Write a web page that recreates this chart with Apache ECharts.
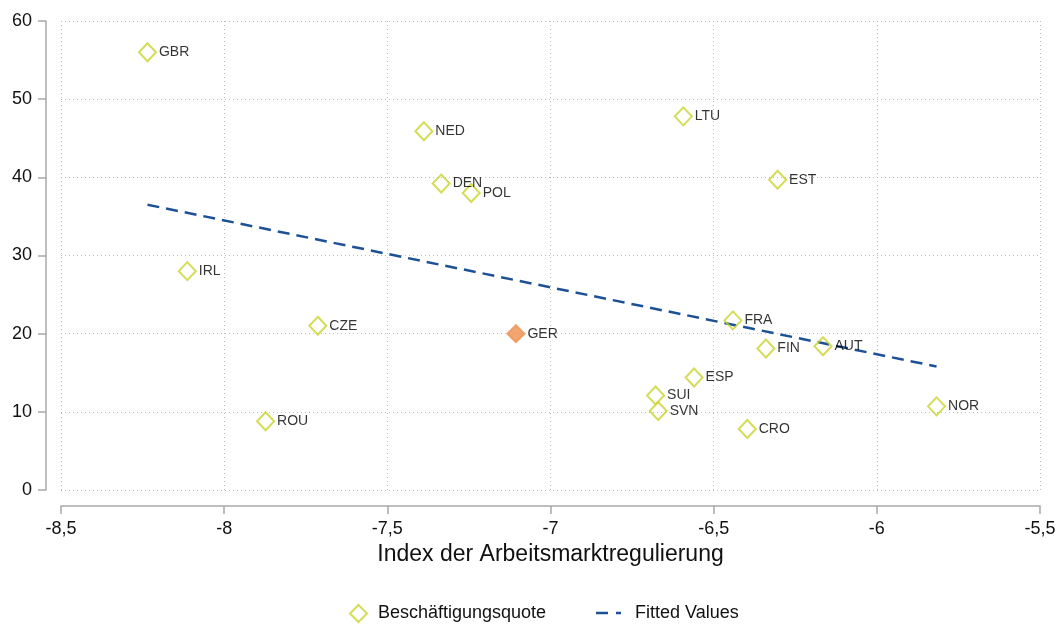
<!DOCTYPE html>
<html>
<head>
<meta charset="utf-8">
<script src="https://cdn.jsdelivr.net/npm/echarts@6/dist/echarts.min.js"></script>
<style>
  html, body { margin: 0; padding: 0; background: #fff; }
  #main { width: 1062px; height: 624px; }
</style>
</head>
<body>
<div id="main"></div>
<script>
// country codes, labour market regulation index, employment quota
var countries = ["GBR", "NED", "DEN", "POL", "LTU", "EST", "IRL", "CZE", "ROU", "GER",
                 "FRA", "FIN", "AUT", "ESP", "SUI", "SVN", "CRO", "NOR"];
var regIndex = [-8.235, -7.388, -7.335, -7.243, -6.593, -6.304, -8.113, -7.713, -7.873, -7.106,
                -6.441, -6.340, -6.165, -6.560, -6.678, -6.670, -6.397, -5.817];
var quota = [56.0, 45.9, 39.2, 38.0, 47.8, 39.7, 28.0, 21.0, 8.8, 20.0,
             21.7, 18.1, 18.4, 14.4, 12.1, 10.1, 7.8, 10.7];
var highlight = "GER";

// fitted line end points
var fitX = [-8.235, -5.817];
var fitY = [36.5, 15.8];

var xTicks = { min: -8.5, max: -5.5, step: 0.5 };
var yTicks = { min: 0, max: 60, step: 10 };

var font = "'Liberation Sans', Arial, sans-serif";
var diamondColor = "#c9d32c";
var lineColor = "#1d5195";

var points = countries.map(function (c, i) {
  var item = { name: c, value: [regIndex[i], quota[i]] };
  if (c === highlight) {
    item.itemStyle = { color: "#ef9150", borderColor: "#ef9150" };
    item.symbolSize = [17, 17];
  }
  return item;
});

var fitData = fitX.map(function (x, i) { return [x, fitY[i]]; });

var gridLine = { show: true, lineStyle: { color: "#bdbdbd", type: [1, 3], width: 1 } };
var legendText = { fontFamily: font, fontSize: 18, color: "#111" };

var chart = echarts.init(document.getElementById("main"));
chart.setOption({
  animation: false,
  backgroundColor: "#fff",
  grid: { left: 61, right: 22, top: 21, bottom: 134 },
  xAxis: {
    type: "value",
    min: xTicks.min,
    max: xTicks.max,
    interval: xTicks.step,
    offset: 16,
    name: "Index der Arbeitsmarktregulierung",
    nameLocation: "middle",
    nameGap: 36,
    nameTextStyle: { fontFamily: font, fontSize: 23, color: "#111" },
    axisLine: { show: true, onZero: false, lineStyle: { color: "#a9a9a9", width: 1.5 } },
    axisTick: { show: true, length: 8, lineStyle: { color: "#a9a9a9", width: 1.5 } },
    axisLabel: {
      fontFamily: font, fontSize: 18, color: "#111", margin: 14,
      formatter: function (v) { return String(v).replace(".", ","); }
    },
    splitLine: gridLine
  },
  yAxis: {
    type: "value",
    min: yTicks.min,
    max: yTicks.max,
    interval: yTicks.step,
    offset: 15,
    axisLine: { show: true, onZero: false, lineStyle: { color: "#a9a9a9", width: 1.5 } },
    axisTick: { show: true, length: 8, lineStyle: { color: "#a9a9a9", width: 1.5 } },
    axisLabel: { fontFamily: font, fontSize: 18, color: "#111", margin: 14 },
    splitLine: gridLine
  },
  legend: [
    {
      left: 344,
      top: 599,
      itemWidth: 17,
      itemHeight: 17,
      textStyle: Object.assign({ padding: [0, 0, 0, 6] }, legendText),
      data: [{ name: "Beschäftigungsquote", icon: "diamond" }]
    },
    {
      left: 591,
      top: 599,
      itemWidth: 25,
      itemHeight: 2.5,
      textStyle: Object.assign({ padding: [0, 0, 0, 9] }, legendText),
      data: [{
        name: "Fitted Values",
        icon: "path://M0,0 H12 V2.5 H0 Z M20,0 H25 V2.5 H20 Z",
        itemStyle: { color: lineColor }
      }]
    }
  ],
  series: [
    {
      name: "Fitted Values",
      type: "line",
      data: fitData,
      showSymbol: false,
      symbol: "none",
      z: 1,
      lineStyle: { color: lineColor, width: 2.5, type: [12, 7] },
      itemStyle: { color: lineColor }
    },
    {
      name: "Beschäftigungsquote",
      type: "scatter",
      data: points,
      symbol: "diamond",
      symbolSize: [17, 18],
      z: 3,
      itemStyle: { color: "rgba(255,255,255,0)", borderColor: diamondColor, borderWidth: 2 },
      label: {
        show: true,
        position: "right",
        distance: 2,
        offset: [0, 2],
        fontFamily: font,
        fontSize: 14,
        color: "#000",
        formatter: function (p) { return p.name; }
      },
      labelLayout: { hideOverlap: false }
    }
  ]
});
</script>
</body>
</html>
